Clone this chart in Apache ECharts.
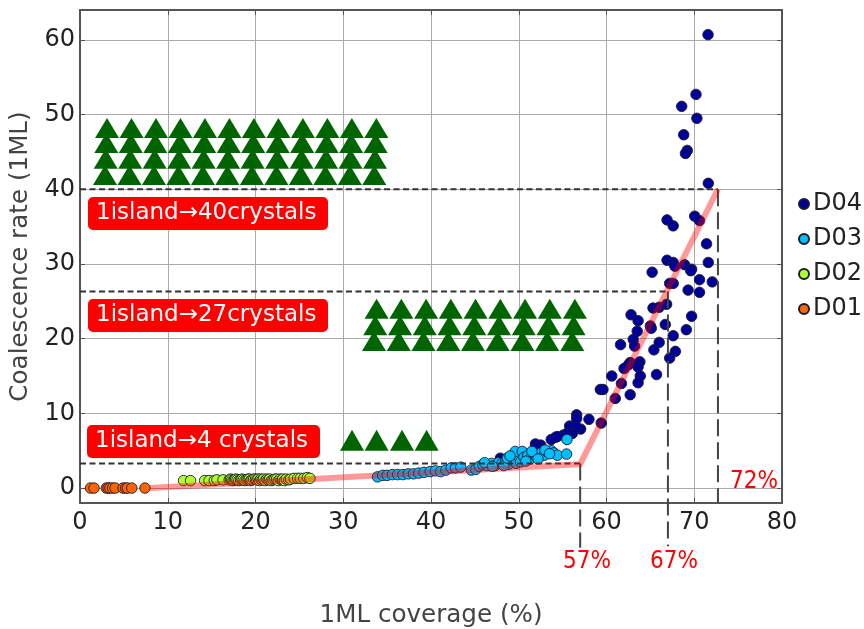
<!DOCTYPE html>
<html><head><meta charset="utf-8">
<style>html,body{margin:0;padding:0;background:#fff}#c{width:864px;height:629px}</style>
<script src="https://cdn.jsdelivr.net/npm/echarts@6/dist/echarts.min.js"></script>
</head><body><div id="c"></div>
<script>
const yTicks=[0,10,20,30,40,50,60];
const D04=[[71.57,60.7],[70.2,52.7],[68.57,51.1],[70.3,49.5],[68.8,47.3],[69.2,45.2],[69.0,44.8],[71.6,40.8],[66.9,35.9],[67.6,35.1],[70.05,36.4],[70.6,35.8],[71.4,32.7],[66.9,30.5],[67.6,30.2],[67.8,29.7],[68.9,29.9],[69.7,29.3],[69.6,29.1],[71.6,30.2],[65.2,28.9],[70.6,27.9],[72.05,27.6],[67.2,27.4],[67.6,27.4],[69.3,26.5],[70.6,26.2],[65.3,24.1],[66.0,24.2],[66.85,24.6],[62.8,23.2],[63.6,22.4],[69.7,23.0],[66.7,21.9],[65.0,21.7],[65.1,21.4],[63.5,21.0],[69.1,21.2],[67.6,20.4],[63.05,19.9],[61.6,19.2],[63.2,19.0],[66.0,19.5],[65.4,18.5],[67.85,18.3],[67.2,17.4],[63.8,16.9],[62.7,16.8],[62.5,16.5],[63.6,16.2],[62.0,16.0],[60.6,15.0],[63.85,15.0],[65.7,15.2],[63.6,14.1],[61.7,14.0],[59.3,13.2],[59.6,13.2],[62.7,12.5],[61.0,12.0],[59.4,8.7],[58.0,9.2],[56.6,9.8],[56.6,9.3],[55.8,8.3],[57.05,7.9],[56.6,8.1],[56.1,7.3],[55.1,7.1],[55.5,7.3],[54.2,6.8],[53.7,6.5],[54.4,6.9],[51.9,5.9],[52.5,5.75],[52.1,5.5],[47.9,4.0],[50.6,4.4],[49.2,3.9]];
const D03=[[33.9,1.5],[34.5,1.7],[35.0,1.7],[35.6,1.8],[36.2,1.8],[36.8,1.8],[37.4,1.9],[38.0,1.9],[38.6,2.0],[39.2,2.1],[39.9,2.2],[40.5,2.3],[41.1,2.2],[41.7,2.4],[42.3,2.7],[42.8,2.7],[43.4,2.8],[44.6,2.4],[45.1,2.5],[45.5,2.9],[45.9,3.1],[46.4,3.0],[46.9,3.3],[47.3,3.0],[47.7,3.4],[48.1,3.3],[48.5,3.6],[48.9,3.2],[49.3,3.8],[49.6,4.0],[49.7,3.3],[50.0,4.2],[50.2,3.5],[49.6,4.9],[50.4,4.9],[50.6,4.1],[51.0,4.3],[51.3,3.9],[51.7,4.6],[52.0,4.2],[52.5,4.7],[52.9,4.4],[53.2,4.9],[53.7,5.0],[54.0,4.7],[54.4,4.4],[55.45,4.55],[55.5,6.5],[46.1,3.4],[47.0,2.9],[48.3,3.0],[48.7,4.0],[49.0,4.3],[50.8,3.6],[51.5,4.9],[52.2,3.9],[53.0,5.1],[53.5,4.6]];
const D02=[[11.8,1.0],[12.6,1.0],[14.2,1.0],[14.7,1.0],[15.3,1.0],[15.6,1.1],[16.3,1.1],[17.0,1.1],[17.15,1.2],[17.3,1.1],[17.45,1.0],[17.6,1.1],[17.75,1.2],[17.9,1.1],[18.1,1.0],[18.3,1.1],[18.45,1.2],[18.6,1.1],[18.8,1.0],[19.0,1.1],[19.15,1.2],[19.3,1.2],[19.45,1.0],[19.6,1.1],[19.8,1.2],[20.0,1.2],[20.15,1.1],[20.3,1.2],[20.45,1.0],[20.6,1.2],[20.75,1.1],[20.9,1.2],[21.1,1.0],[21.3,1.2],[21.45,1.1],[21.6,1.2],[21.8,1.0],[22.0,1.1],[22.2,1.2],[22.4,1.2],[22.6,1.0],[22.8,1.2],[23.0,1.1],[23.1,1.2],[23.3,1.0],[23.5,1.2],[23.8,1.1],[24.0,1.2],[24.4,1.3],[24.8,1.3],[25.1,1.3],[25.5,1.3],[25.9,1.4],[26.2,1.3]];
const D01=[[1.2,0],[1.6,0],[3.0,0],[3.2,0],[3.4,0],[3.7,0],[4.0,0],[4.9,0],[5.2,0],[5.4,0],[5.9,0],[7.4,0]];
const triTop=[[3.08,48.2],[5.87,48.2],[8.66,48.2],[11.45,48.2],[14.24,48.2],[17.03,48.2],[19.82,48.2],[22.61,48.2],[25.4,48.2],[28.19,48.2],[30.98,48.2],[33.77,48.2],
[3.0,46.2],[5.79,46.2],[8.58,46.2],[11.37,46.2],[14.16,46.2],[16.95,46.2],[19.74,46.2],[22.53,46.2],[25.32,46.2],[28.11,46.2],[30.9,46.2],[33.69,46.2],
[2.93,44.1],[5.72,44.1],[8.51,44.1],[11.3,44.1],[14.09,44.1],[16.88,44.1],[19.67,44.1],[22.46,44.1],[25.25,44.1],[28.04,44.1],[30.83,44.1],[33.62,44.1],
[2.85,41.9],[5.64,41.9],[8.43,41.9],[11.22,41.9],[14.01,41.9],[16.8,41.9],[19.59,41.9],[22.38,41.9],[25.17,41.9],[27.96,41.9],[30.75,41.9],[33.54,41.9]];
const triMid=[[33.8,24.0],[36.62,24.0],[39.44,24.0],[42.26,24.0],[45.08,24.0],[47.9,24.0],[50.72,24.0],[53.54,24.0],[56.4,24.0],
[33.65,21.8],[36.47,21.8],[39.29,21.8],[42.11,21.8],[44.93,21.8],[47.75,21.8],[50.57,21.8],[53.39,21.8],[56.25,21.8],
[33.5,19.7],[36.32,19.7],[39.14,19.7],[41.96,19.7],[44.78,19.7],[47.6,19.7],[50.42,19.7],[53.24,19.7],[56.1,19.7]];
const triLow=[[31.0,6.4],[33.8,6.4],[36.7,6.4],[39.5,6.4]];
const fit=[[8,0],[57,3.2],[72.7,40]];
const hGuides=[[[0,40],[72.7,40]],[[0,26.3],[67,26.3]],[[0,3.3],[57,3.3]]];
const vGuides=[[[57,3.3],[57,-8]],[[67,26.3],[67,-7.8]],[[72.7,40],[72.7,-2]]];
const boxes=[{t:'1island\u219240crystals',x:88,y:197,w:240},{t:'1island\u219227crystals',x:88,y:299,w:240},{t:'1island\u21924 crystals',x:87,y:425,w:233}];
const notes=[{t:'57%',x:587,y:562},{t:'67%',x:674,y:562},{t:'72%',x:754,y:482}];
const F='"DejaVu Sans"';
const dot=(name,data,color)=>({name,type:'scatter',data,symbol:'circle',symbolSize:10.5,z:4,
  itemStyle:{color,borderColor:'#1c1c2c',borderWidth:0.9,opacity:1}});
const tri=(data,size)=>({type:'scatter',data,symbol:'triangle',symbolSize:size,z:3,silent:true,itemStyle:{color:'#006400',opacity:1}});
const guide=(data,dash,color)=>({type:'line',data,showSymbol:false,clip:false,silent:true,z:5,lineStyle:{color,width:2,type:dash}});
const chart=echarts.init(document.getElementById('c'),null,{renderer:'canvas'});
const axisBase={axisLine:{show:true,onZero:false,lineStyle:{color:'#555',width:2}},axisTick:{show:true,inside:true,length:5,lineStyle:{color:'#555',width:1}}};
chart.setOption({
  animation:false,backgroundColor:'#fff',
  grid:{left:80,top:10,width:702,height:493,show:false,outerBoundsMode:'none'},
  legend:{data:['D04','D03','D02','D01'],orient:'vertical',left:793,top:187,itemWidth:10,itemHeight:10,itemGap:11,icon:'circle',
    textStyle:{fontFamily:F,fontSize:24,color:'#222',padding:[0,0,0,-1]}},
  xAxis:[{type:'value',min:0,max:80,interval:10,...axisBase,position:'bottom',
    axisLabel:{fontFamily:F,fontSize:24,color:'#222',margin:8},splitLine:{show:true,lineStyle:{color:'#aaa',width:1}},
    name:'1ML coverage (%)',nameLocation:'middle',nameGap:100,nameTextStyle:{fontFamily:F,fontSize:24.6,color:'#444'}},
    {type:'value',min:0,max:80,interval:10,...axisBase,position:'top',axisLabel:{show:false},splitLine:{show:false}}],
  yAxis:[{type:'value',min:-2,max:64,...axisBase,position:'left',
    axisTick:{...axisBase.axisTick,customValues:yTicks},
    axisLabel:{fontFamily:F,fontSize:24,color:'#222',margin:5,customValues:yTicks},
    splitLine:{show:true,lineStyle:{color:'#aaa',width:1}},
    name:'Coalescence rate (1ML)',nameLocation:'middle',nameGap:40,nameTextStyle:{fontFamily:F,fontSize:24.6,color:'#444'}},
    {type:'value',min:-2,max:64,...axisBase,position:'right',axisTick:{...axisBase.axisTick,customValues:yTicks},axisLabel:{show:false},splitLine:{show:false}}],
  series:[
    tri(triTop,[24,20]),tri(triMid,[24,20]),tri(triLow,[24,21]),
    dot('D04',D04,'#000099'),dot('D03',D03,'#00bfff'),dot('D02',D02,'#adff2f'),dot('D01',D01,'#ff6600'),
    ...hGuides.map(g=>guide(g,[6,3.5],'#333')),
    ...vGuides.map(g=>guide(g,[17,6],'#444')),
    {type:'line',data:fit,showSymbol:false,clip:false,silent:true,z:6,lineStyle:{color:'rgba(255,0,0,0.4)',width:6,join:'miter'}}
  ],
  graphic:[
    ...boxes.map(b=>({type:'rect',left:b.x,top:b.y,z:10,shape:{width:b.w,height:33,r:5},style:{fill:'#ff0000'}})),
    ...boxes.map(b=>({type:'text',left:b.x+8,top:b.y+5,z:11,style:{text:b.t,fill:'#fff',font:'23px '+F}})),
    ...notes.map(n=>({type:'text',x:n.x,y:n.y,z:11,style:{text:n.t,fill:'#ff0000',font:'24px "DejaVu Sans Condensed","DejaVu Sans"',textAlign:'center',textVerticalAlign:'middle'}}))
  ]
});
</script></body></html>
